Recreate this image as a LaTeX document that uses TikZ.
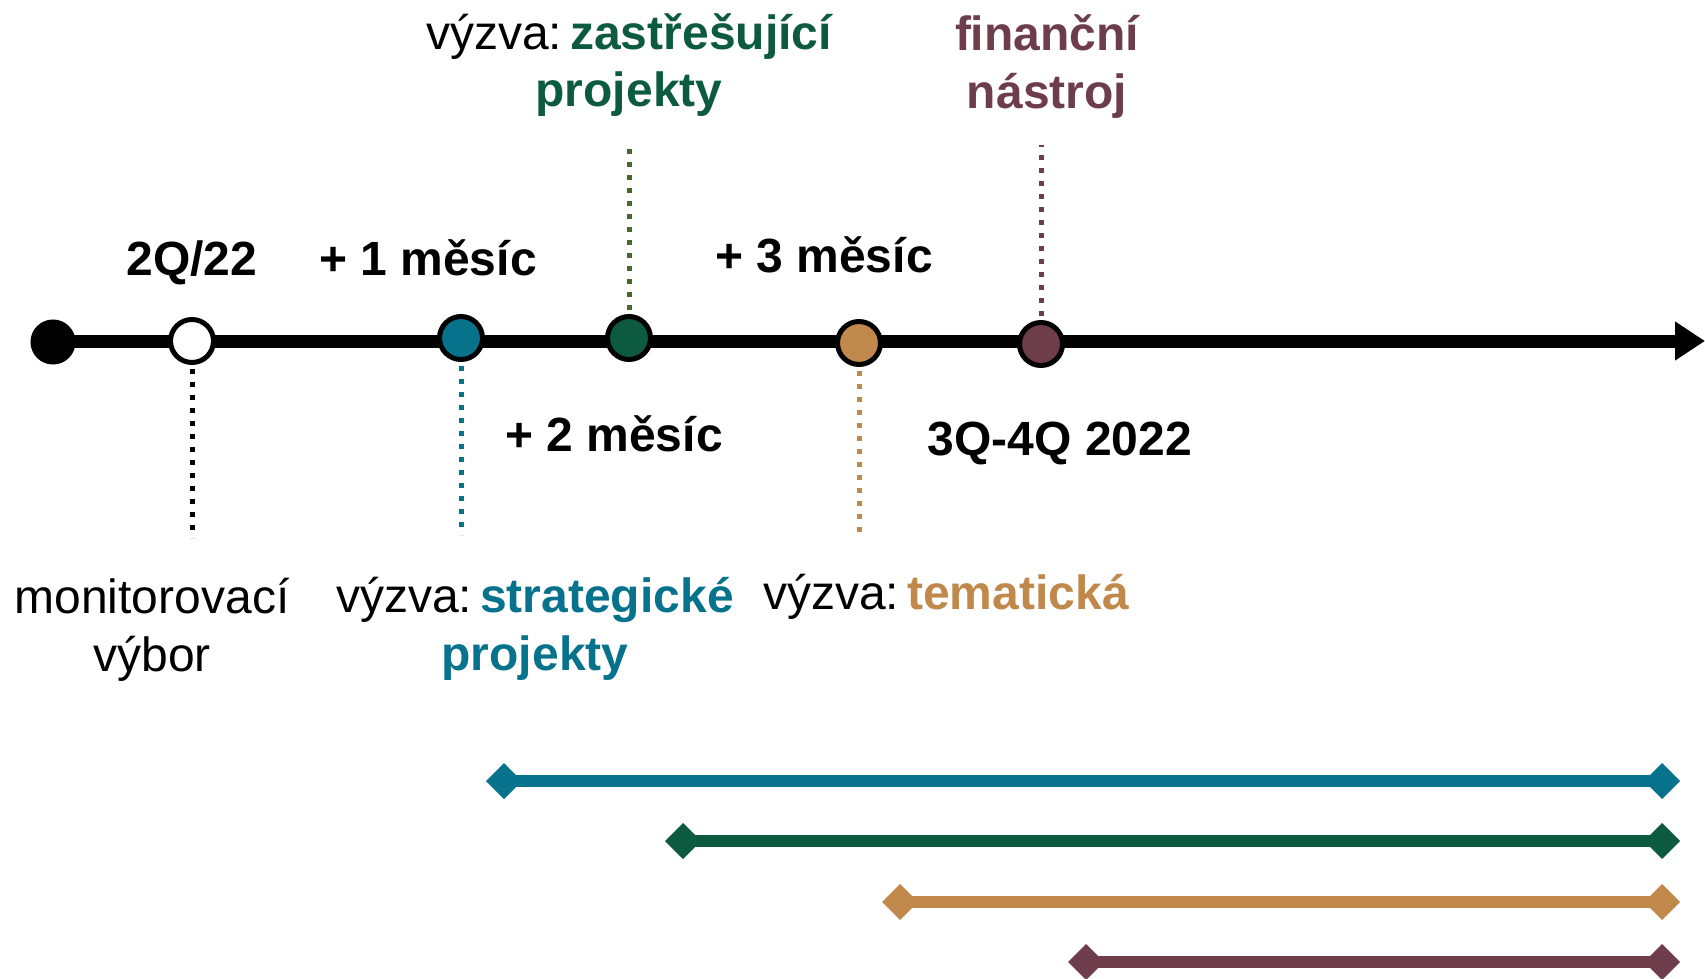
\documentclass[tikz,border=0pt]{standalone}
\usepackage{fontspec}
\setmainfont{Liberation Sans}
\usetikzlibrary{arrows.meta}
\definecolor{stratblue}{HTML}{06728C}
\definecolor{umbgreen}{HTML}{0C5A40}
\definecolor{umbolive}{HTML}{46692A}
\definecolor{themorange}{HTML}{C0884A}
\definecolor{finpurple}{HTML}{6E3D4C}

\begin{document}
\begin{tikzpicture}[x=1pt,y=-1pt,
  every node/.style={font=\fontsize{48}{58}\selectfont,inner sep=0pt},
  milestone/.style={circle,draw=black,line width=5pt,minimum size=43pt,inner sep=0pt},
  dotline/.style={line width=5pt,dash pattern=on 5pt off 8pt,shorten <=4pt},
  bar/.style={line width=12pt,{Turned Square[length=36pt,width=36pt]}-{Turned Square[length=36pt,width=36pt]}}]
\useasboundingbox (0,0) rectangle (1705,979);

% time axis
\coordinate (axisstart) at (53,341);
\coordinate (axisend) at (1705,341);
\draw[line width=13pt,-{Triangle[length=30pt,width=37pt]}] (axisstart) -- (axisend);

% milestones
\node[milestone,fill=black,minimum size=40pt] (start) at (53,342) {};
\node[milestone,fill=white] (mv) at (192,341) {};
\node[milestone,fill=stratblue] (strat) at (461,338) {};
\node[milestone,fill=umbgreen] (umb) at (629,338) {};
\node[milestone,fill=themorange] (them) at (859,343) {};
\node[milestone,fill=finpurple] (fin) at (1041,344) {};

% dotted leaders
\coordinate (mv-end) at (192,538);
\coordinate (strat-end) at (461,535);
\coordinate (umb-end) at (629,145);
\coordinate (them-end) at (859,538);
\coordinate (fin-end) at (1041,145);
\draw[dotline,black] (mv) -- (mv-end);
\draw[dotline,stratblue] (strat) -- (strat-end);
\draw[dotline,umbolive] (umb) -- (umb-end);
\draw[dotline,themorange] (them) -- (them-end);
\draw[dotline,finpurple] (fin) -- (fin-end);

% periods
\node[anchor=base] (q2) at (192,275) {\bfseries 2Q/22};
\node[anchor=base] (m1) at (428,275) {\bfseries + 1 měsíc};
\node[anchor=base] (m3) at (824,272) {\bfseries + 3 měsíc};
\node[anchor=base] (m2) at (614,451) {\bfseries + 2 měsíc};
\node[anchor=base] (q34) at (1060,455) {\bfseries 3Q-4Q 2022};

% labels (base = last line)
\node[anchor=base,align=center] (mvlabel) at (152,671) {monitorovací\\výbor};
\node[anchor=base,align=center] (stratlabel) at (535,670) {výzva:\hspace{8pt}\textbf{\color{stratblue}strategické}\\\textbf{\color{stratblue}projekty}};
\node[anchor=base] (themlabel) at (946,609) {výzva:\hspace{8pt}\textbf{\color{themorange}tematická}};
\node[anchor=base,align=center] (umblabel) at (629,107) {výzva:\hspace{8pt}\textbf{\color{umbgreen}zastřešující}\\\textbf{\color{umbgreen}projekty}};
\node[anchor=base,align=center,font=\fontsize{48}{58}\selectfont\bfseries,text=finpurple] (finlabel) at (1047,109) {finanční\\nástroj};

% call durations
\coordinate (strat-a) at (486,781);
\coordinate (strat-b) at (1680,781);
\coordinate (umb-a) at (665,841);
\coordinate (umb-b) at (1680,841);
\coordinate (them-a) at (882,902);
\coordinate (them-b) at (1680,902);
\coordinate (fin-a) at (1068,962);
\coordinate (fin-b) at (1680,962);
\draw[bar,stratblue] (strat-a) -- (strat-b);
\draw[bar,umbgreen] (umb-a) -- (umb-b);
\draw[bar,themorange] (them-a) -- (them-b);
\draw[bar,finpurple] (fin-a) -- (fin-b);
\end{tikzpicture}
\end{document}
